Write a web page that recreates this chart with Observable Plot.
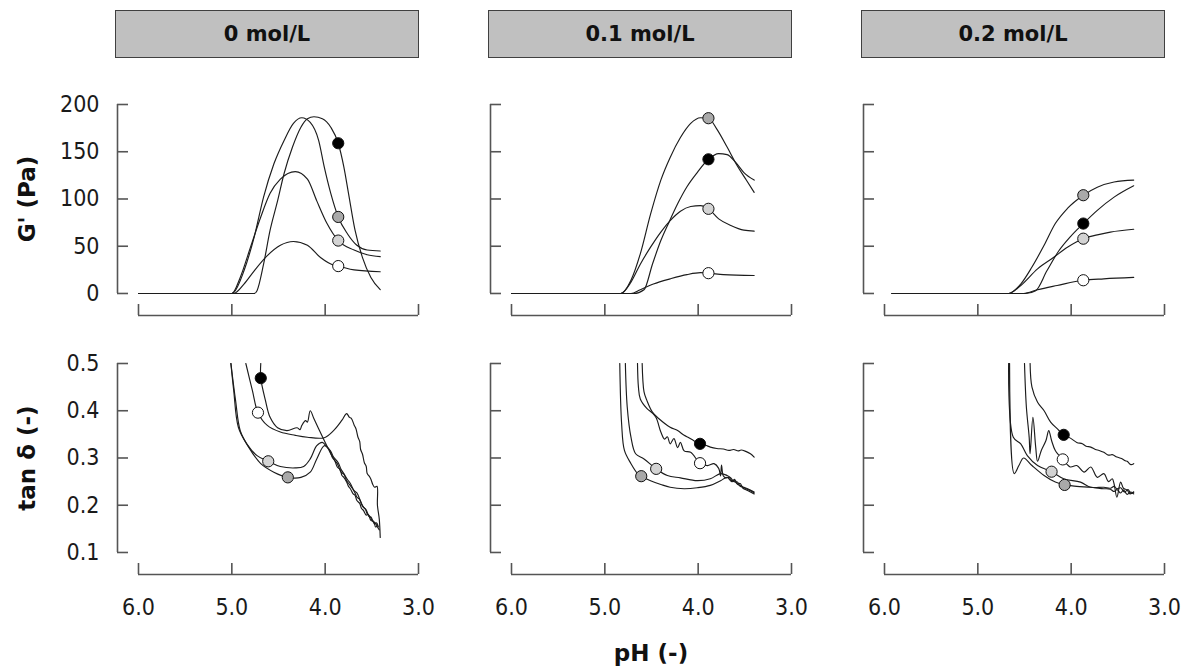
<!DOCTYPE html>
<html>
<head>
<meta charset="utf-8">
<script src="https://cdn.jsdelivr.net/npm/d3@7"></script>
<script src="https://cdn.jsdelivr.net/npm/@observablehq/plot@0.6"></script>
<style>
  body { margin: 0; background: #fff; }
  #root { position: relative; width: 1192px; height: 670px; overflow: hidden; background: #fff;
          font-family: "DejaVu Sans Condensed", "DejaVu Sans", sans-serif; color: #111; }
  .strip { position: absolute; box-sizing: border-box; background: #c0c0c0; border: 1px solid #404040;
           font-weight: bold; font-size: 21px; display: flex; align-items: center; justify-content: center;
           font-family: "DejaVu Sans", sans-serif; }
  .panel { position: absolute; }
  .lab { position: absolute; font-weight: bold; font-size: 23px; white-space: nowrap;
         font-family: "DejaVu Sans", sans-serif; transform: translate(-50%, -50%); }
  .lab.rot { transform: translate(-50%, -50%) rotate(-90deg); }
</style>
</head>
<body>
<div id="root"></div>
<script>
// ---------------- data ----------------
const concentrations = ["0 mol/L", "0.1 mol/L", "0.2 mol/L"];
const seriesNames = ["black", "darkgray", "lightgray", "white"];
const markerFills = ["#000000", "#7f7f7f", "#bdbdbd", "#ffffff"];
const xTicks = [6, 5, 4, 3];
const gTicks = [0, 50, 100, 150, 200];
const tanTicks = [0.1, 0.2, 0.3, 0.4, 0.5];
const rowLabels = ["G' (Pa)", "tan δ (-)"];
const xLabel = "pH (-)";

// G' (Pa) vs pH, 0 mol/L
const g0_black = [[6.0,0],[4.76,0],[4.73,3],[4.66,31],[4.59,67],[4.51,98],[4.44,127],[4.35,155],[4.26,176],[4.19,185],[4.12,187],[4.03,185],[3.94,176],[3.86,159],[3.80,134],[3.75,106],[3.68,67],[3.60,38],[3.51,17],[3.41,4]];
const g0_dark  = [[6.0,0],[5.0,0],[4.98,1],[4.87,24],[4.76,60],[4.66,102],[4.55,137],[4.44,162],[4.34,180],[4.25,186],[4.16,181],[4.07,162],[4.01,134],[3.94,106],[3.86,81],[3.76,63],[3.66,51],[3.55,46],[3.41,45]];
const g0_light = [[6.0,0],[5.0,0],[4.91,17],[4.80,49],[4.69,81],[4.59,106],[4.48,121],[4.32,129],[4.19,121],[4.09,98],[3.98,74],[3.86,56],[3.69,46],[3.55,41],[3.41,39]];
const g0_white = [[6.0,0],[4.98,0],[4.87,10],[4.76,24],[4.62,40],[4.48,51],[4.34,55],[4.19,51],[4.05,38],[3.91,30],[3.86,29],[3.69,25],[3.41,23]];
const g0_markers = [[3.86,159],[3.86,81],[3.86,56],[3.86,29]];

// G' (Pa) vs pH, 0.1 mol/L
const g1_black = [[6.0,0],[4.69,0],[4.58,4],[4.49,31],[4.40,56],[4.31,76],[4.22,95],[4.12,113],[4.01,128],[3.89,142],[3.78,148],[3.69,147],[3.60,139],[3.51,128],[3.40,120]];
const g1_dark  = [[6.0,0],[4.83,0],[4.72,14],[4.62,42],[4.51,84],[4.40,120],[4.30,144],[4.19,165],[4.08,180],[3.975,186],[3.89,185.5],[3.80,174],[3.69,155],[3.58,135],[3.49,121],[3.40,107]];
const g1_light = [[6.0,0],[4.83,0],[4.72,12],[4.62,31],[4.51,49],[4.40,65],[4.30,77],[4.19,87],[4.08,92],[3.975,93],[3.89,89.6],[3.78,79],[3.65,72],[3.51,67],[3.40,66]];
const g1_white = [[6.0,0],[4.72,0],[4.62,4],[4.48,10],[4.30,15.5],[4.12,20],[3.975,22],[3.89,21.5],[3.73,20],[3.40,19]];
const g1_markers = [[3.89,142],[3.89,185.5],[3.89,89.6],[3.89,21.5]];

// G' (Pa) vs pH, 0.2 mol/L
const g2_black = [[5.92,0],[4.49,0],[4.38,3],[4.26,24],[4.13,45.5],[4.01,60],[3.87,74],[3.72,88],[3.54,102],[3.33,114]];
const g2_dark  = [[5.92,0],[4.67,0],[4.54,10],[4.42,28],[4.29,51],[4.17,74],[4.04,90],[3.87,104],[3.72,112.5],[3.54,118],[3.33,120]];
const g2_light = [[5.92,0],[4.67,0],[4.54,8.5],[4.36,26],[4.19,38],[4.04,49],[3.87,58],[3.72,62],[3.58,65],[3.33,68]];
const g2_white = [[5.92,0],[4.51,0],[4.36,4],[4.15,8.5],[3.87,14],[3.65,15.5],[3.33,17]];
const g2_markers = [[3.87,74],[3.87,104],[3.87,58],[3.87,14]];

// tan δ vs pH, 0 mol/L
const t0_black = [[4.69,0.5],[4.69,0.469],[4.64,0.422],[4.59,0.386],[4.51,0.364],[4.41,0.358],[4.30,0.364],[4.27,0.360],[4.25,0.369],[4.21,0.379],[4.19,0.376],[4.16,0.400],[4.12,0.383],[4.07,0.362],[4.01,0.337],[3.94,0.309],[3.90,0.296],[3.87,0.281],[3.84,0.276],[3.82,0.263],[3.80,0.259],[3.77,0.249],[3.75,0.240],[3.73,0.235],[3.70,0.224],[3.68,0.221],[3.66,0.210],[3.63,0.204],[3.61,0.193],[3.59,0.189],[3.56,0.179],[3.54,0.181],[3.51,0.168],[3.48,0.166],[3.46,0.154],[3.44,0.157]];
const t0_dark  = [[5.01,0.5],[4.96,0.422],[4.91,0.358],[4.82,0.323],[4.69,0.288],[4.55,0.270],[4.40,0.259],[4.26,0.259],[4.16,0.270],[4.09,0.298],[4.01,0.326],[3.96,0.319],[3.92,0.300],[3.87,0.288],[3.83,0.270],[3.80,0.266],[3.77,0.252],[3.74,0.244],[3.71,0.236],[3.68,0.226],[3.66,0.217],[3.63,0.212],[3.60,0.198],[3.57,0.192],[3.55,0.182],[3.52,0.176],[3.49,0.166],[3.46,0.162],[3.44,0.154],[3.42,0.148]];
const t0_light = [[5.01,0.5],[4.98,0.443],[4.93,0.365],[4.84,0.330],[4.73,0.305],[4.61,0.293],[4.48,0.282],[4.32,0.279],[4.23,0.282],[4.16,0.298],[4.09,0.326],[4.03,0.333],[3.98,0.323],[3.94,0.314],[3.91,0.302],[3.86,0.290],[3.83,0.276],[3.80,0.267],[3.76,0.254],[3.73,0.246],[3.69,0.231],[3.66,0.226],[3.62,0.208],[3.59,0.196],[3.56,0.190],[3.53,0.176],[3.51,0.175],[3.47,0.160],[3.45,0.163],[3.43,0.154]];
const t0_white = [[4.85,0.5],[4.78,0.443],[4.72,0.396],[4.62,0.369],[4.48,0.355],[4.32,0.348],[4.19,0.344],[4.01,0.343],[3.91,0.358],[3.82,0.380],[3.77,0.394],[3.74,0.386],[3.72,0.384],[3.69,0.370],[3.67,0.362],[3.65,0.345],[3.63,0.335],[3.62,0.318],[3.60,0.308],[3.58,0.290],[3.56,0.282],[3.55,0.267],[3.53,0.262],[3.51,0.255],[3.49,0.244],[3.47,0.238],[3.445,0.240],[3.44,0.200],[3.42,0.170],[3.41,0.132]];
const t0_markers = [[4.69,0.469],[4.40,0.259],[4.61,0.293],[4.72,0.396]];

// tan δ vs pH, 0.1 mol/L
const t1_black = [[4.60,0.5],[4.58,0.440],[4.55,0.422],[4.49,0.397],[4.42,0.383],[4.30,0.365],[4.22,0.358],[4.15,0.348],[4.10,0.343],[4.05,0.337],[3.98,0.330],[3.92,0.327],[3.87,0.323],[3.80,0.320],[3.73,0.319],[3.67,0.316],[3.62,0.318],[3.57,0.315],[3.54,0.317],[3.49,0.314],[3.44,0.309],[3.40,0.302]];
const t1_dark  = [[4.84,0.5],[4.82,0.372],[4.79,0.316],[4.72,0.288],[4.65,0.267],[4.61,0.2615],[4.51,0.252],[4.40,0.244],[4.30,0.238],[4.15,0.235],[4.01,0.237],[3.87,0.242],[3.76,0.252],[3.69,0.259],[3.64,0.250],[3.62,0.253],[3.58,0.245],[3.55,0.246],[3.52,0.236],[3.47,0.231],[3.40,0.224]];
const t1_light = [[4.78,0.5],[4.76,0.408],[4.72,0.344],[4.67,0.309],[4.58,0.298],[4.45,0.277],[4.33,0.263],[4.19,0.258],[4.01,0.252],[3.87,0.256],[3.76,0.267],[3.69,0.263],[3.65,0.258],[3.62,0.250],[3.58,0.249],[3.55,0.240],[3.51,0.238],[3.47,0.235],[3.40,0.228]];
const t1_white = [[4.65,0.5],[4.64,0.450],[4.62,0.425],[4.55,0.405],[4.49,0.395],[4.45,0.385],[4.40,0.355],[4.36,0.340],[4.33,0.345],[4.30,0.330],[4.26,0.341],[4.22,0.322],[4.19,0.333],[4.15,0.315],[4.08,0.312],[3.98,0.289],[3.90,0.284],[3.83,0.288],[3.78,0.278],[3.76,0.262],[3.75,0.285],[3.73,0.262],[3.70,0.258],[3.67,0.259],[3.63,0.250],[3.61,0.255],[3.58,0.245],[3.54,0.241],[3.50,0.236],[3.45,0.232],[3.40,0.226]];
const t1_markers = [[3.98,0.330],[4.61,0.2615],[4.45,0.277],[3.98,0.289]];

// tan δ vs pH, 0.2 mol/L
const t2_black = [[4.44,0.5],[4.42,0.450],[4.36,0.418],[4.29,0.400],[4.22,0.376],[4.15,0.362],[4.08,0.349],[4.00,0.341],[3.94,0.333],[3.88,0.330],[3.84,0.325],[3.79,0.323],[3.74,0.318],[3.70,0.316],[3.65,0.312],[3.60,0.306],[3.56,0.307],[3.51,0.302],[3.46,0.299],[3.42,0.294],[3.40,0.293],[3.36,0.286],[3.33,0.288]];
const t2_dark  = [[4.66,0.5],[4.61,0.267],[4.56,0.284],[4.51,0.300],[4.42,0.284],[4.29,0.263],[4.17,0.249],[4.07,0.243],[3.94,0.240],[3.79,0.238],[3.65,0.235],[3.58,0.234],[3.54,0.229],[3.51,0.233],[3.47,0.226],[3.44,0.232],[3.40,0.223],[3.36,0.228],[3.33,0.224]];
const t2_light = [[4.67,0.5],[4.62,0.344],[4.54,0.330],[4.47,0.305],[4.36,0.284],[4.21,0.271],[4.08,0.256],[3.90,0.249],[3.79,0.238],[3.65,0.238],[3.58,0.236],[3.54,0.240],[3.51,0.235],[3.47,0.237],[3.43,0.228],[3.39,0.233],[3.36,0.225],[3.33,0.228]];
const t2_white = [[4.50,0.5],[4.48,0.408],[4.45,0.344],[4.44,0.309],[4.41,0.386],[4.38,0.323],[4.36,0.293],[4.32,0.316],[4.27,0.337],[4.24,0.358],[4.21,0.337],[4.17,0.316],[4.09,0.297],[4.01,0.281],[3.94,0.284],[3.86,0.270],[3.79,0.281],[3.72,0.259],[3.65,0.267],[3.60,0.250],[3.56,0.256],[3.54,0.245],[3.51,0.217],[3.47,0.249],[3.44,0.236],[3.40,0.232],[3.37,0.224],[3.33,0.228]];
const t2_markers = [[4.08,0.349],[4.07,0.243],[4.21,0.271],[4.09,0.297]];

// ---------------- assembly ----------------
const gCurves = [[g0_black,g0_dark,g0_light,g0_white],[g1_black,g1_dark,g1_light,g1_white],[g2_black,g2_dark,g2_light,g2_white]];
const gMarkers = [g0_markers, g1_markers, g2_markers];
const tCurves = [[t0_black,t0_dark,t0_light,t0_white],[t1_black,t1_dark,t1_light,t1_white],[t2_black,t2_dark,t2_light,t2_white]];
const tMarkers = [t0_markers, t1_markers, t2_markers];

const root = document.getElementById("root");
const FONT = '"DejaVu Sans Condensed", "DejaVu Sans", sans-serif';
const AXC = "#555";

// layout constants (pixels)
const colX = [117, 490, 863];  // y-axis line of each column
const frameW = 301;
const ML = 72, MR = 25, MT = 14;
const xDomain = [6.225, 3.0];

const rows = [
  {ticks: gTicks, domain: [-23.3, 200], top: 104, bottom: 315, mb: 6, fmt: d => String(d),
   curves: gCurves, markers: gMarkers, xlabels: false, curve: "monotone-x"},
  {ticks: tanTicks, domain: [0.0534, 0.5], top: 363, bottom: 574, mb: 60, fmt: d => d.toFixed(1),
   curves: tCurves, markers: tMarkers, xlabels: true, curve: "catmull-rom"}
];

rows.forEach((row, ri) => {
  for (let c = 0; c < 3; c++) {
    const lines = [];
    row.curves[c].forEach((pts, si) => pts.forEach(([x, y]) => lines.push({x, y, s: seriesNames[si]})));
    const dots = row.markers[c].map(([x, y], si) => ({x, y, s: seriesNames[si]}));
    const h = row.bottom - row.top;
    const plot = Plot.plot({
      width: ML + frameW + MR,
      height: MT + h + row.mb,
      marginLeft: ML, marginRight: MR, marginTop: MT, marginBottom: row.mb,
      x: {domain: xDomain},
      y: {domain: row.domain},
      color: {domain: seriesNames, range: markerFills},
      style: {background: "transparent", overflow: "visible", fontFamily: FONT, fontSize: "23px", color: "#1a1a1a"},
      marks: [
        Plot.ruleX([xDomain[0]], {y1: row.ticks[0], y2: row.ticks[row.ticks.length - 1], stroke: AXC, strokeWidth: 1.6}),
        Plot.ruleY([row.domain[0]], {x1: xTicks[0], x2: xTicks[xTicks.length - 1], stroke: AXC, strokeWidth: 1.6}),
        Plot.axisY({ticks: row.ticks, tickSize: -11, tickPadding: 29, stroke: AXC, strokeWidth: 1.6,
                    tickFormat: c === 0 ? row.fmt : () => "", label: null, fontSize: 23, fill: "#1a1a1a"}),
        Plot.axisX({ticks: xTicks, tickSize: -11, tickPadding: 35, stroke: AXC, strokeWidth: 1.6,
                    tickFormat: row.xlabels ? d => d.toFixed(1) : () => "", label: null, fontSize: 23, fill: "#1a1a1a"}),
        Plot.line(lines, {x: "x", y: "y", z: "s", stroke: "#1c1c1c", strokeWidth: 1.15, curve: row.curve, clip: true}),
        Plot.dot(dots, {x: "x", y: "y", r: 5.6, fill: "s", stroke: "#111", strokeWidth: 1})
      ]
    });
    plot.classList.add("panel");
    plot.style.left = (colX[c] - ML) + "px";
    plot.style.top = (row.top - MT) + "px";
    root.appendChild(plot);
  }
});

// facet strips
concentrations.forEach((name, c) => {
  const d = document.createElement("div");
  d.className = "strip";
  d.textContent = name;
  d.style.left = (colX[c] - 2) + "px";
  d.style.top = "10px";
  d.style.width = "304px";
  d.style.height = "48px";
  root.appendChild(d);
});

// axis titles
[[27, 199], [27, 458]].forEach(([x, y], i) => {
  const d = document.createElement("div");
  d.className = "lab rot";
  d.textContent = rowLabels[i];
  d.style.left = x + "px";
  d.style.top = y + "px";
  root.appendChild(d);
});
const xl = document.createElement("div");
xl.className = "lab";
xl.textContent = xLabel;
xl.style.left = "651px";
xl.style.top = "653px";
root.appendChild(xl);
</script>
</body>
</html>
